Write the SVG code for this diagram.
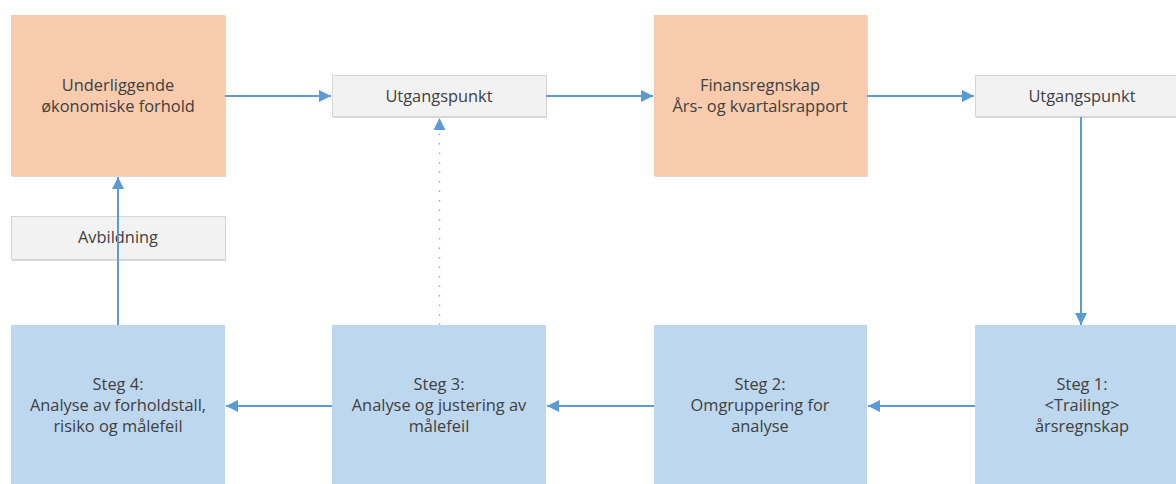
<svg xmlns="http://www.w3.org/2000/svg" width="1176" height="484" viewBox="0 0 1176 484">
  <style>
    .lbl { font-family: "Open Sans", "Liberation Sans", sans-serif; font-size: 16.4px; fill: #404040; text-anchor: middle; }
    .src { fill: #F8CBAD; }
    .step { fill: #BDD7EE; }
    .tag { fill: #F2F2F2; stroke: #D4D4D4; stroke-width: 1; }
    .shade { fill: #DADADA; }
    .flow { stroke: #5B9BD5; stroke-width: 2; fill: none; }
    .dots { stroke: #8FAFCF; stroke-width: 1.5; stroke-dasharray: 1.5 8; fill: none; }
  </style>
  <defs>
    <marker id="head" viewBox="0 0 12 12" refX="12" refY="6" markerWidth="12" markerHeight="12" markerUnits="userSpaceOnUse" orient="auto">
      <path d="M0,0 L12,6 L0,12 Z" fill="#5B9BD5"/>
    </marker>
  </defs>
  <rect width="1176" height="484" fill="#FFFFFF"/>

  <!-- top row -->
  <g id="underliggende">
    <rect class="shade" x="12" y="16" width="214" height="161"/>
    <rect class="src" x="11" y="15" width="214" height="161"/>
    <text class="lbl" x="118" y="91">Underliggende</text>
    <text class="lbl" x="118" y="112">økonomiske forhold</text>
  </g>
  <g id="utgangspunkt1">
    <rect class="shade" x="333" y="77" width="214" height="41"/>
    <rect class="tag" x="332.5" y="75.5" width="214" height="41"/>
    <text class="lbl" x="439" y="102">Utgangspunkt</text>
  </g>
  <g id="finansregnskap">
    <rect class="shade" x="655" y="16" width="213" height="161"/>
    <rect class="src" x="654" y="15" width="213" height="161"/>
    <text class="lbl" x="760" y="91">Finansregnskap</text>
    <text class="lbl" x="760" y="112">Års- og kvartalsrapport</text>
  </g>
  <g id="utgangspunkt2">
    <rect class="shade" x="976" y="77" width="214" height="41"/>
    <rect class="tag" x="975.5" y="75.5" width="214" height="41"/>
    <text class="lbl" x="1082" y="102">Utgangspunkt</text>
  </g>

  <!-- middle -->
  <g id="avbildning">
    <rect class="shade" x="12" y="218" width="214" height="43"/>
    <rect class="tag" x="11.5" y="216.5" width="214" height="43"/>
    <text class="lbl" x="118" y="243">Avbildning</text>
  </g>

  <!-- bottom row -->
  <g id="steg4">
    <rect class="step" x="11" y="325" width="214" height="170"/>
    <text class="lbl" x="118" y="390">Steg 4:</text>
    <text class="lbl" x="118" y="411">Analyse av forholdstall,</text>
    <text class="lbl" x="118" y="432">risiko og målefeil</text>
  </g>
  <g id="steg3">
    <rect class="step" x="332" y="325" width="214" height="170"/>
    <text class="lbl" x="439" y="390">Steg 3:</text>
    <text class="lbl" x="439" y="411">Analyse og justering av</text>
    <text class="lbl" x="439" y="432">målefeil</text>
  </g>
  <g id="steg2">
    <rect class="step" x="654" y="325" width="213" height="170"/>
    <text class="lbl" x="760" y="390">Steg 2:</text>
    <text class="lbl" x="760" y="411">Omgruppering for</text>
    <text class="lbl" x="760" y="432">analyse</text>
  </g>
  <g id="steg1">
    <rect class="step" x="975" y="325" width="214" height="170"/>
    <text class="lbl" x="1082" y="390">Steg 1:</text>
    <text class="lbl" x="1082" y="411">&lt;Trailing&gt;</text>
    <text class="lbl" x="1082" y="432">årsregnskap</text>
  </g>

  <!-- connectors -->
  <g id="connectors">
    <line class="flow" x1="225" y1="96" x2="331" y2="96" marker-end="url(#head)"/>
    <line class="flow" x1="546" y1="96" x2="653" y2="96" marker-end="url(#head)"/>
    <line class="flow" x1="867" y1="96" x2="974" y2="96" marker-end="url(#head)"/>
    <line class="flow" x1="1081" y1="117" x2="1081" y2="325" marker-end="url(#head)"/>
    <line class="flow" x1="975" y1="406" x2="868" y2="406" marker-end="url(#head)"/>
    <line class="flow" x1="654" y1="406" x2="547" y2="406" marker-end="url(#head)"/>
    <line class="flow" x1="332" y1="406" x2="226" y2="406" marker-end="url(#head)"/>
    <line class="flow" x1="118" y1="325" x2="118" y2="177" marker-end="url(#head)"/>
    <line class="dots" x1="439.5" y1="325" x2="439.5" y2="128"/>
    <path d="M433.5,130 L439.5,118 L445.5,130 Z" fill="#5B9BD5"/>
  </g>
</svg>
